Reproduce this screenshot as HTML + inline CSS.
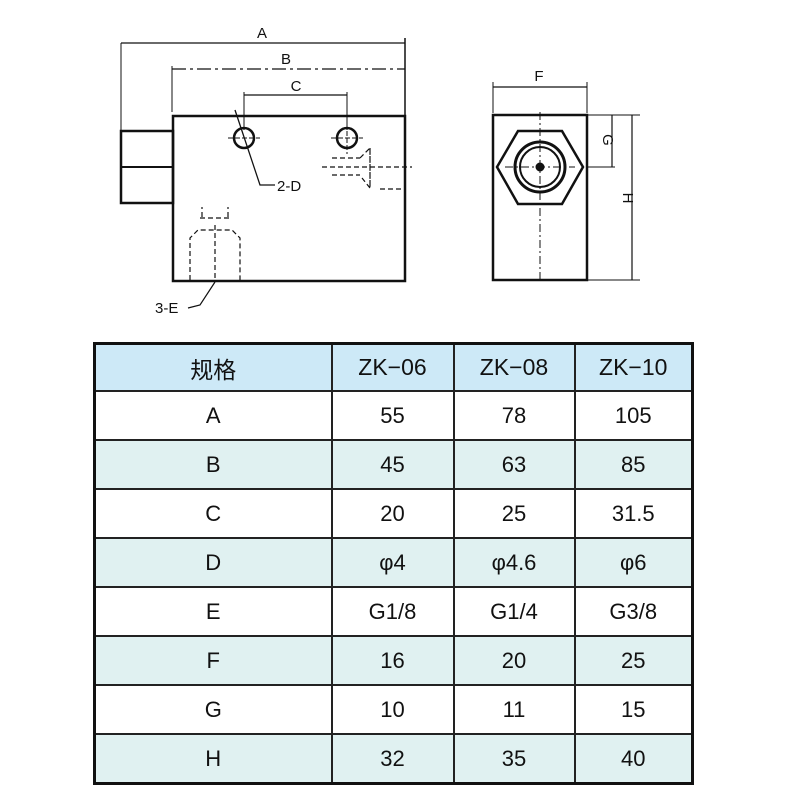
<!DOCTYPE html>
<html><head><meta charset="utf-8"><style>
body{margin:0;width:800px;height:800px;background:#fff;position:relative;overflow:hidden;font-family:"Liberation Sans","Noto Sans CJK SC",sans-serif}
table{position:absolute;left:93px;top:342px;border-collapse:collapse;border:3px solid #111;table-layout:fixed;width:598px}
td{border:2px solid #222;height:47px;text-align:center;font-size:22px;padding:0;color:#111}
tr:nth-child(odd) td{background:#e0f1f1}
tr.h td{background:#cde9f7;height:45px;font-size:23px}
</style></head><body>
<svg width="800" height="340" style="position:absolute;left:0;top:0" font-family="Liberation Sans, sans-serif" fill="none" stroke="#111">
<rect x="173" y="116" width="232" height="165" stroke-width="2.5"/>
<rect x="121" y="131" width="52" height="72" stroke-width="2.5"/>
<line x1="121" y1="167" x2="173" y2="167" stroke-width="2"/>
<line x1="121" y1="43" x2="121" y2="131" stroke-width="1"/>
<line x1="405" y1="38" x2="405" y2="116" stroke-width="1.5"/>
<line x1="121" y1="43" x2="405" y2="43" stroke-width="1.2"/>
<line x1="172" y1="69" x2="405" y2="69" stroke-width="1.2" stroke-dasharray="14,4,3,4"/>
<line x1="172" y1="66" x2="172" y2="112" stroke-width="1"/>
<line x1="244" y1="95" x2="347" y2="95" stroke-width="1.2"/>
<line x1="244" y1="92" x2="244" y2="130" stroke-width="1"/>
<line x1="347" y1="92" x2="347" y2="130" stroke-width="1"/>
<circle cx="244" cy="138" r="10" stroke-width="2.5"/>
<circle cx="347" cy="138" r="10" stroke-width="2.5"/>
<path d="M228 138h32M331 138h32M347 124v30" stroke-width="1" stroke-dasharray="5,2"/>
<path d="M235 110 L260 185 L275 185" stroke-width="1.3"/>
<path d="M322 167h90M332 158h28M332 175h28M360 158l10 -10v40M370 148v40l-8 -10M380 189h22" stroke-width="1.2" stroke-dasharray="5,3"/>
<path d="M190 280v-42l8 -8h34l8 8v42M215 225v55M202 217v-10M228 217v-10M200 218h30" stroke-width="1.2" stroke-dasharray="5,3"/>
<path d="M215 282 L200 305 L188 308" stroke-width="1.2"/>
<rect x="493" y="115" width="94" height="165" stroke-width="2.5"/>
<polygon points="518,131 562,131 583,167 562,204 518,204 497,167" stroke-width="2.5"/>
<circle cx="540" cy="167" r="25" stroke-width="3"/>
<circle cx="540" cy="167" r="20" stroke-width="2"/>
<circle cx="540" cy="167" r="4" fill="#111"/>
<path d="M540 112v168M505 167h70" stroke-width="1" stroke-dasharray="8,3,2,3"/>
<line x1="493" y1="87" x2="587" y2="87" stroke-width="1.2"/>
<line x1="493" y1="82" x2="493" y2="113" stroke-width="1"/>
<line x1="587" y1="82" x2="587" y2="113" stroke-width="1"/>
<line x1="587" y1="115" x2="640" y2="115" stroke-width="1"/>
<line x1="587" y1="167" x2="615" y2="167" stroke-width="1"/>
<line x1="587" y1="280" x2="640" y2="280" stroke-width="1"/>
<line x1="612" y1="115" x2="612" y2="167" stroke-width="1.2"/>
<line x1="632" y1="115" x2="632" y2="280" stroke-width="1.2"/>
<g fill="#111" stroke="none" font-size="15">
<text x="262" y="38" text-anchor="middle">A</text>
<text x="286" y="64" text-anchor="middle">B</text>
<text x="296" y="91" text-anchor="middle">C</text>
<text x="277" y="191">2-D</text>
<text x="155" y="313">3-E</text>
<text x="539" y="81" text-anchor="middle">F</text>
<text transform="translate(603,140) rotate(90)" text-anchor="middle">G</text>
<text transform="translate(623,198) rotate(90)" text-anchor="middle">H</text>
</g>
</svg>
<table>
<colgroup><col style="width:237px"><col style="width:122px"><col style="width:121px"><col style="width:118px"></colgroup>
<tr class="h"><td>规格</td><td>ZK−06</td><td>ZK−08</td><td>ZK−10</td></tr>
<tr><td>A</td><td>55</td><td>78</td><td>105</td></tr>
<tr><td>B</td><td>45</td><td>63</td><td>85</td></tr>
<tr><td>C</td><td>20</td><td>25</td><td>31.5</td></tr>
<tr><td>D</td><td>φ4</td><td>φ4.6</td><td>φ6</td></tr>
<tr><td>E</td><td>G1/8</td><td>G1/4</td><td>G3/8</td></tr>
<tr><td>F</td><td>16</td><td>20</td><td>25</td></tr>
<tr><td>G</td><td>10</td><td>11</td><td>15</td></tr>
<tr><td>H</td><td>32</td><td>35</td><td>40</td></tr>
</table>
</body></html>
